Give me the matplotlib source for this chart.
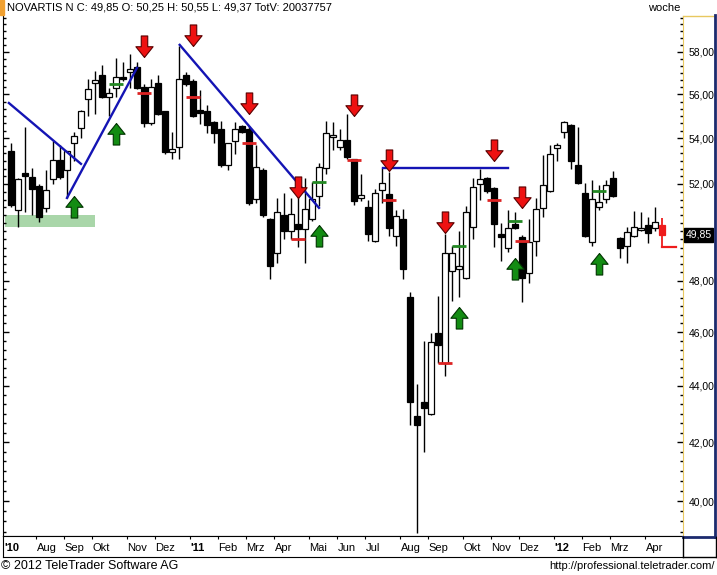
import numpy as np
import matplotlib.pyplot as plt
from matplotlib.path import Path
from matplotlib.patches import Rectangle
from matplotlib.lines import Line2D
from matplotlib.ticker import FixedLocator, FixedFormatter, NullFormatter

plt.rcParams['font.family'] = ['Liberation Sans', 'DejaVu Sans']

# -- weekly candles, Novartis N, Jul 2010 .. Apr 2012
opens = [53.4, 50.9, 52.45, 52.3, 51.9, 50.97, 52.2, 53.0, 52.6, 53.8,
         54.45, 55.8, 56.55, 56.9, 55.9, 56.3, 56.8, 57.05, 57.25, 56.3,
         54.7, 56.5, 55.2, 53.4, 53.6, 56.9, 56.6, 55.25, 55.2, 54.7,
         54.4, 52.8, 53.9, 54.55, 54.4, 51.35, 52.6, 50.5, 49.1, 50.65,
         50.0, 50.3, 50.1, 50.5, 51.5, 52.7, 54.05, 53.6, 53.9, 53.05,
         51.4, 51.0, 49.6, 51.75, 51.55, 49.8, 50.5, 47.35, 42.9, 43.4,
         43.0, 45.95, 44.85, 48.4, 48.45, 48.1, 50.2, 52.0, 52.25, 51.8,
         49.85, 49.3, 50.3, 49.75, 48.3, 49.6, 50.97, 51.7, 53.55, 54.3,
         54.6, 52.8, 51.6, 49.55, 51.0, 51.35, 52.25, 49.7, 49.4, 49.8,
         50.05, 50.25, 50.15, 50.25]
highs = [53.8, 52.25, 54.5, 52.7, 52.0, 52.6, 53.9, 53.7, 53.45, 54.3,
         55.3, 56.7, 57.1, 57.4, 56.3, 57.7, 57.5, 57.9, 57.5, 56.5,
         56.7, 56.9, 55.25, 54.3, 58.3, 57.05, 56.7, 56.2, 55.5, 54.8,
         54.8, 53.8, 54.75, 54.6, 54.55, 53.7, 52.7, 50.55, 51.4, 51.6,
         51.4, 51.6, 52.25, 52.1, 52.9, 54.8, 54.75, 54.4, 55.1, 53.1,
         52.45, 51.3, 51.8, 52.7, 52.5, 50.9, 50.95, 47.55, 44.05, 45.65,
         45.95, 47.4, 49.9, 49.4, 50.0, 51.05, 52.25, 52.65, 52.3, 51.85,
         50.35, 50.9, 50.8, 49.85, 50.5, 51.4, 53.25, 53.7, 53.8, 54.8,
         54.65, 54.5, 52.05, 52.15, 51.95, 52.15, 52.55, 49.75, 50.2, 50.85,
         50.8, 50.6, 51.0, 50.55]
lows = [51.0, 50.2, 50.8, 50.7, 50.4, 50.8, 52.0, 52.2, 51.4, 53.0,
        54.0, 55.0, 55.1, 55.85, 55.0, 55.9, 56.6, 56.3, 56.25, 54.5,
        54.6, 55.05, 53.3, 53.1, 53.1, 56.4, 54.95, 54.65, 54.25, 53.8,
        52.75, 52.6, 53.3, 54.25, 51.1, 51.2, 50.6, 48.05, 48.7, 49.7,
        49.7, 49.35, 48.7, 50.45, 51.05, 52.45, 53.5, 53.5, 53.1, 51.1,
        51.25, 49.6, 49.55, 51.2, 49.8, 49.4, 48.05, 42.6, 38.95, 41.65,
        42.95, 44.85, 44.35, 47.2, 47.35, 48.05, 49.7, 51.3, 51.6, 49.35,
        48.8, 49.15, 50.1, 47.15, 47.9, 49.0, 50.6, 51.65, 53.0, 54.0,
        52.65, 52.0, 49.75, 49.4, 50.9, 51.2, 51.45, 48.9, 48.7, 49.75,
        50.0, 49.5, 50.0, 49.37]
closes = [51.1, 52.2, 52.35, 51.8, 50.6, 51.7, 53.0, 52.3, 53.4, 54.1,
          55.2, 56.25, 56.65, 55.9, 56.05, 56.8, 56.7, 57.15, 56.3, 54.7,
          56.3, 55.1, 53.4, 53.5, 56.7, 56.5, 55.0, 55.15, 54.6, 54.25,
          52.8, 53.75, 54.4, 54.3, 51.2, 52.7, 50.7, 48.6, 50.8, 50.0,
          50.7, 50.1, 50.9, 51.35, 52.7, 54.2, 54.15, 53.9, 53.15, 51.25,
          51.5, 49.9, 51.6, 52.0, 50.15, 50.6, 48.45, 43.4, 42.6, 43.2,
          45.6, 45.5, 49.1, 49.1, 48.55, 50.8, 51.85, 52.2, 51.7, 50.3,
          49.75, 50.1, 50.15, 48.1, 49.55, 50.9, 51.95, 53.3, 53.7, 54.7,
          53.0, 52.05, 49.8, 51.35, 51.2, 51.95, 51.5, 49.3, 49.95, 50.15,
          50.1, 49.95, 50.35, 49.85]

# month labels (first weekly candle of each month)
month_labels = ["'10", "Aug", "Sep", "Okt", "Nov", "Dez", "'11", "Feb", "Mrz", "Apr", "Mai",
                "Jun", "Jul", "Aug", "Sep", "Okt", "Nov", "Dez", "'12", "Feb", "Mrz", "Apr"]
month_pos = [-0.6, 4, 8, 12, 17, 21, 26, 30, 34, 38, 43, 47, 51, 56, 60, 65, 69, 73, 78, 82, 86, 91]

price_ticks = [40, 42, 44, 46, 48, 52, 54, 56, 58]

# signals
sell_idx = [19, 26, 34, 41, 49, 54, 62, 69, 73]
sell_tip = [57.76, 58.29, 55.1, 51.4, 55.0, 52.55, 49.95, 53.0, 50.97]
sell_stop = [56.05, 55.9, 53.8, 49.7, 53.05, 51.3, 44.85, 51.3, 49.6]
buy_idx = [9, 15, 44, 64, 72, 84]
buy_tip = [51.5, 54.7, 50.25, 46.98, 48.9, 49.1]
buy_stop_idx = [15, 44, 64, 72, 84]
buy_stop = [56.47, 52.1, 49.4, 50.42, 51.7]

# trend lines
trend_x = [(-0.3, 10), (8, 18), (24.1, 44), (53.1, 71)]
trend_y = [(55.6, 52.87), (51.4, 57.24), (58.34, 50.98), (52.69, 52.69)]
support_x = (-0.9, 12)
support_y = (50.18, 50.68)

W, H = 717, 575
fig = plt.figure(figsize=(W / 100, H / 100), dpi=100)
ax = fig.add_axes([3 / W, 39 / H, 680 / W, 520 / H])
ax.set_yscale('log')
ax.set_xlim(-1.14, 96)
ax.set_ylim(38.86, 59.75)

x = np.arange(len(opens))
o = np.array(opens)
c = np.array(closes)
lo_b = np.minimum(o, c)
hi_b = np.maximum(o, c)
n = len(x) - 1

# support zone
ax.fill_between(support_x, support_y[0], support_y[1], color='#a9d6a9', lw=0, zorder=1)

# candles
ax.vlines(x[:n], lows[:n], highs[:n], color='black', lw=1, zorder=3)
ax.bar(x[:n], (hi_b - lo_b)[:n] + 0.02, bottom=lo_b[:n], width=0.72,
       color=np.where(c[:n] >= o[:n], 'white', 'black'), edgecolor='black', lw=0.9, zorder=4)
# last (current) candle in red
ax.vlines(x[n], lows[n], highs[n], color='#ee1c1c', lw=1.3, zorder=3)
ax.bar(x[n], hi_b[n] - lo_b[n], bottom=lo_b[n], width=0.72, color='#ee1c1c',
       edgecolor='#ee1c1c', lw=0.9, zorder=4)
ax.plot([x[n], x[n] + 2], [lows[n], lows[n]], color='#ee1c1c', lw=1.6, zorder=4)

# trend lines
for tx, ty in zip(trend_x, trend_y):
    ax.plot(tx, ty, color='#1414b4', lw=1.7, zorder=5)

# stop levels
ax.hlines(sell_stop, np.array(sell_idx) - 1, np.array(sell_idx) + 1, color='#dd2222', lw=2, zorder=5)
ax.hlines(buy_stop, np.array(buy_stop_idx) - 1, np.array(buy_stop_idx) + 1, color='#238823', lw=2, zorder=5)

# arrows
down = Path([(0, 0), (0.8, 1), (0.3, 1), (0.3, 2), (-0.3, 2), (-0.3, 1), (-0.8, 1), (0, 0)])
up = Path([(0, 0), (0.8, -1), (0.3, -1), (0.3, -2), (-0.3, -2), (-0.3, -1), (-0.8, -1), (0, 0)])
ax.plot(sell_idx, sell_tip, ls='none', marker=down, ms=31, mfc='#ee1111', mec='#5a0000', mew=0.8, zorder=6)
ax.plot(buy_idx, buy_tip, ls='none', marker=up, ms=31, mfc='#138c13', mec='#003300', mew=0.8, zorder=6)

# axes styling
ax.set_xticks([])
ax.yaxis.set_major_locator(FixedLocator(price_ticks))
ax.yaxis.set_major_formatter(FixedFormatter([f'{v:.2f}'.replace('.', ',') for v in price_ticks]))
ax.yaxis.set_minor_locator(FixedLocator([38 + k / 3 for k in range(70)]))
ax.yaxis.set_minor_formatter(NullFormatter())
ax.tick_params(axis='y', which='both', left=True, right=True, labelleft=False, labelright=True,
               direction='in', labelsize=7.5, pad=4, color='black')
ax.tick_params(axis='y', which='major', length=4, width=1)
ax.tick_params(axis='y', which='minor', length=2, width=1)
ax.spines['top'].set_visible(False)
ax.spines['right'].set_color('#e8c860')
ax.spines['left'].set_color('black')
ax.spines['bottom'].set_color('black')

# current price box
ax.annotate('49,85', xy=(1, closes[-1]), xycoords=('axes fraction', 'data'), xytext=(2, 0),
            textcoords='offset points', ha='left', va='center', fontsize=7.5, color='white',
            bbox=dict(boxstyle='square,pad=0.15', fc='black', ec='black'), zorder=10,
            annotation_clip=False)

# month band
axb = fig.add_axes([3 / W, 18 / H, 680 / W, 21 / H])
axb.set_xlim(-1.14, 96)
axb.set_ylim(0, 1)
axb.set_yticks([])
axb.set_xticks(np.array(month_pos[1:]) - 0.4)
axb.tick_params(axis='x', direction='in', top=True, bottom=False, labelbottom=False, length=2)
for lab, p in zip(month_labels, month_pos):
    axb.text(p - 0.35, 0.45, lab, ha='left', va='center', fontsize=8,
             fontweight='bold' if lab.startswith("'") else 'normal', clip_on=False)
axb.spines['right'].set_visible(False)
for s in ['top', 'bottom', 'left']:
    axb.spines[s].set_color('black')

# right price panel frame and corner box
fig.add_artist(Line2D([683 / W, 715 / W], [1 - 15.5 / H, 1 - 15.5 / H], color='#e8c860', lw=1))
fig.add_artist(Line2D([715 / W, 715 / W], [1 - 15 / H, 1 - 537 / H], color='#1c2a6e', lw=2))
fig.add_artist(Line2D([683 / W, 716 / W], [1 - 536.5 / H, 1 - 536.5 / H], color='#1c2a6e', lw=2))
fig.add_artist(Line2D([715.5 / W, 715.5 / W], [1 - 537 / H, 1 - 557 / H], color='black', lw=1))
fig.add_artist(Line2D([683 / W, 716 / W], [1 - 557 / H, 1 - 557 / H], color='black', lw=1))
fig.add_artist(Line2D([683 / W, 683 / W], [1 - 537 / H, 1 - 557 / H], color='black', lw=1))

# header / footer
fig.add_artist(Rectangle((0, 1 - 15 / H), 4 / W, 15 / H, color='#f0a030', transform=fig.transFigure))
fig.text(7 / W, 1 - 8 / H, 'NOVARTIS N C: 49,85 O: 50,25 H: 50,55 L: 49,37 TotV: 20037757',
         ha='left', va='center', fontsize=8)
fig.text(680 / W, 1 - 8 / H, 'woche', ha='right', va='center', fontsize=8)
fig.text(1 / W, 1 - 566 / H, '\u00a9 2012 TeleTrader Software AG', ha='left', va='center', fontsize=9)
fig.text(715 / W, 1 - 566 / H, 'http://professional.teletrader.com/', ha='right', va='center', fontsize=8)

plt.savefig('out.png', dpi=100)
